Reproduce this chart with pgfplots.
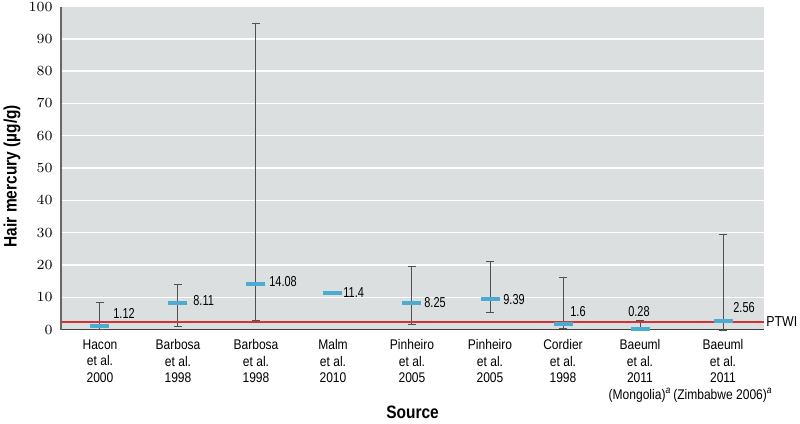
\documentclass[border=0pt]{standalone}
\usepackage{fontspec}
\setmainfont{Liberation Sans}[FakeStretch=0.86]
\newfontfamily\numfont{Liberation Sans}[FakeStretch=0.76]
\usepackage{pgfplots}
\usepackage{pgfplotstable}
\pgfplotsset{compat=1.18}
\definecolor{bggray}{RGB}{220,223,224}
\definecolor{medblue}{RGB}{75,172,210}
\definecolor{errgray}{RGB}{80,80,80}
\definecolor{ptwired}{RGB}{210,50,55}

\pgfplotstableread{
x y ep em
100 1.12 7.38 1.12
178 8.11 5.79 7.31
256 14.08 80.72 11.38
412 8.25 11.35 6.55
490 9.39 11.61 4.09
563 1.6 14.6 1.3
640 0.28 2.62 0.28
723 2.56 26.74 2.8
}\errdata

\pgfplotstableread{
x y
100 1.12
178 8.11
256 14.08
333 11.4
412 8.25
490 9.39
563 1.6
640 0.28
723 2.56
}\meddata

\begin{document}
\begin{tikzpicture}
\useasboundingbox (-30.5pt,-47.25pt) rectangle (369.5pt,164.75pt);
\begin{axis}[
  at={(0,0)}, anchor=south west,
  scale only axis, width=351.5pt, height=161.5pt,
  xmin=61, xmax=764, ymin=0, ymax=100,
  clip=false,
  axis background/.style={fill=bggray},
  axis x line*=bottom, axis y line*=left,
  x axis line style={-, draw=black!75, line width=0.8pt},
  y axis line style={-, draw=black!60, line width=1pt},
  major tick length=0pt, tick style={draw=none},
  ytick={0,10,...,100},
  ymajorgrids, major grid style={white, line width=0.7pt},
  yticklabel style={font=\numfont\fontsize{7.2}{8}\selectfont, anchor=east, inner sep=0pt, xshift=-4pt},
  xtick={100,178,256,333,412,490,563,640,723},
  xticklabels={{Hacon\\et al.\\2000},{Barbosa\\et al.\\1998},{Barbosa\\et al.\\1998},{Malm\\et al.\\2010},{Pinheiro\\et al.\\2005},{Pinheiro\\et al.\\2005},{Cordier\\et al.\\1998},{Baeuml\\et al.\\2011\\(Mongolia)\textsuperscript{\itshape a}},{Baeuml\\et al.\\2011\\(Zimbabwe 2006)\textsuperscript{\itshape a}}},
  xticklabel style={font=\fontsize{7}{8.25}\selectfont, align=center, anchor=north, inner sep=0pt, yshift=-4.75pt},
  xlabel={Source},
  ylabel={Hair mercury (µg/g)},
  xlabel style={font=\bfseries\fontsize{9}{10}\selectfont, at={(axis description cs:0.5,-0.257)}, anchor=center},
  ylabel style={font=\bfseries\fontsize{9}{10}\selectfont, at={(axis description cs:-0.0697,0.475)}, anchor=center},
]
\addplot[forget plot, draw=none, mark=none,
  error bars/.cd, y dir=both, y explicit,
  error mark=|, error mark options={mark size=1.8pt, line width=0.5pt, draw=errgray},
  error bar style={line width=0.5pt, draw=errgray}]
  table[x=x, y=y, y error plus=ep, y error minus=em] {\errdata};
\addplot[forget plot, ptwired, line width=1.2pt, mark=none] coordinates {(61,2.4) (764,2.4)};
\addplot[forget plot, only marks, mark=-, mark size=4.75pt, mark options={line width=2pt, draw=medblue}] table[x=x, y=y] {\meddata};
\begin{scope}[every node/.style={font=\numfont\fontsize{7.2}{8}\selectfont, inner sep=0pt}]
\node[anchor=west] at (axis cs:113,5.1) {1.12};
\node[anchor=west] at (axis cs:193,8.9) {8.11};
\node[anchor=west] at (axis cs:269,14.8) {14.08};
\node[anchor=west] at (axis cs:343,11.5) {11.4};
\node[anchor=west] at (axis cs:424,8.3) {8.25};
\node[anchor=west] at (axis cs:503,9.4) {9.39};
\node[anchor=west] at (axis cs:570,5.5) {1.6};
\node[anchor=center] at (axis cs:639,5.5) {0.28};
\node[anchor=west] at (axis cs:733,6.9) {2.56};
\end{scope}
\node[anchor=west, inner sep=0pt, font=\fontsize{7.2}{8}\selectfont] at (axis cs:766,2.6) {PTWI};
\end{axis}
\end{tikzpicture}
\end{document}
